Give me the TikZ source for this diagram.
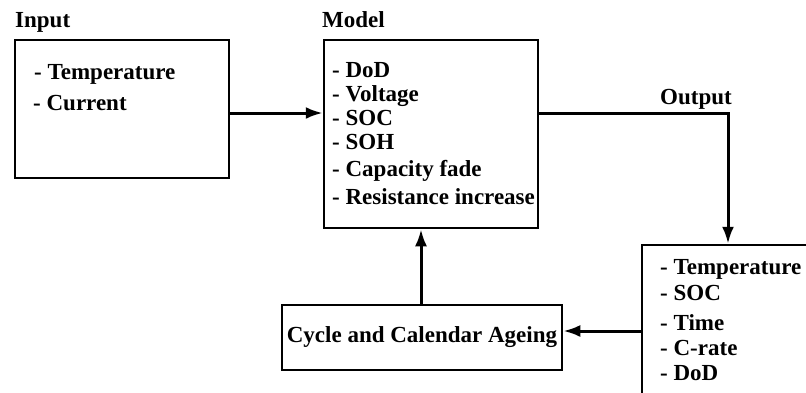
\documentclass[tikz,border=0pt]{standalone}
\usepackage{fontspec}
\setmainfont{Liberation Serif}
\usetikzlibrary{arrows.meta}
\begin{document}
\begin{tikzpicture}[x=1pt,y=-1pt,
  box/.style={draw,line width=2.5pt,inner sep=0pt},
  txt/.style={anchor=west,inner sep=0pt,font=\fontsize{23}{25}\selectfont\bfseries},
  lbl/.style={anchor=base west,inner sep=0pt,font=\fontsize{23}{25}\selectfont\bfseries},
  conn/.style={line width=3pt,-{Latex[length=17pt,width=12pt]}}]
\clip (0,0) rectangle (806,392);
\fill[white] (0,0) rectangle (806,392);
% boxes
\node[box,minimum width=214pt,minimum height=138pt] (in) at (122,109) {};
\node[box,minimum width=214pt,minimum height=188pt] (model) at (431,134) {};
\node[box,minimum width=280pt,minimum height=65pt] (cyc) at (422,337.5) {};
\node[box,minimum width=190pt,minimum height=170pt] (out) at (737,330) {};
% labels
\node[lbl] (linput) at (15,27) {Input};
\node[lbl] (lmodel) at (322,27) {Model};
\node[lbl] (loutput) at (660,104) {Output};
% input text
\node[txt] (i1) at (34,74) {- Temperature};
\node[txt] (i2) at (33,103) {- Current};
% model text
\node[txt] (m1) at (332,70) {- DoD};
\node[txt] (m2) at (332,96) {- Voltage};
\node[txt] (m3) at (332,118) {- SOC};
\node[txt] (m4) at (332,142) {- SOH};
\node[txt] (m5) at (332,171) {- Capacity fade};
\node[txt] (m6) at (332,197) {- Resistance increase};
% output text
\node[txt] (o1) at (660,269) {- Temperature};
\node[txt] (o2) at (660,293) {- SOC};
\node[txt] (o3) at (660,323) {- Time};
\node[txt] (o4) at (660,348) {- C-rate};
\node[txt] (o5) at (660,373) {- DoD};
% cycle text
\node[font=\fontsize{23}{25}\selectfont\bfseries,inner sep=0pt] (ctext) at (cyc) {Cycle and Calendar Ageing};
% connectors
\coordinate (corner) at (728,113);
\draw[conn] (in.east |- 0,113) -- (model.west |- 0,113);
\draw[conn] (model.east |- 0,113) -- (corner) -- (728,0 |- out.north);
\draw[conn] (out.west |- 0,331) -- (cyc.east |- 0,331);
\draw[conn] (421,0 |- cyc.north) -- (421,0 |- model.south);
\end{tikzpicture}
\end{document}
